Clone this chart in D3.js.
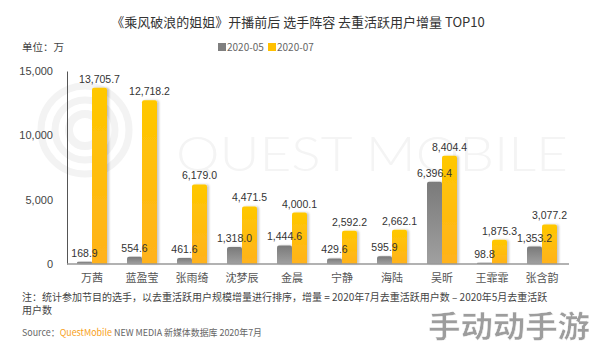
<!DOCTYPE html>
<html><head><meta charset="utf-8">
<script src="https://cdn.jsdelivr.net/npm/d3@7"></script>
<style>
body{margin:0;background:#fff;}
text{font-family:"Noto Sans CJK SC","Noto Sans",sans-serif;}
</style></head>
<body><svg id="c" width="594" height="345"></svg>
<script>
const categories = ["万茜","蓝盈莹","张雨绮","沈梦辰","金晨","宁静","海陆","吴昕","王霏霏","张含韵"];
const may = [168.9,554.6,461.6,1318.0,1444.6,429.6,595.9,6396.4,98.8,1353.2];
const jul = [13705.7,12718.2,6179.0,4471.5,4000.1,2592.2,2662.1,8404.4,1875.3,3077.2];
const seriesNames = ["2020-05","2020-07"];
const yTicks = [0,5000,10000,15000];

const svg = d3.select("#c");
const defs = svg.append("defs");
const g1 = defs.append("linearGradient").attr("id","gGray").attr("x1",0).attr("y1",0).attr("x2",0).attr("y2",1);
g1.append("stop").attr("offset","0%").attr("stop-color","#7a7a7a");
g1.append("stop").attr("offset","100%").attr("stop-color","#a0a0a0");
const g2 = defs.append("linearGradient").attr("id","gYel").attr("x1",0).attr("y1",0).attr("x2",0).attr("y2",1);
g2.append("stop").attr("offset","0%").attr("stop-color","#ffc800");
g2.append("stop").attr("offset","100%").attr("stop-color","#ffb21c");
const f = defs.append("filter").attr("id","sh").attr("x","-30%").attr("y","-10%").attr("width","160%").attr("height","120%");
f.append("feDropShadow").attr("dx",2).attr("dy",0).attr("stdDeviation",1.2).attr("flood-color","#000").attr("flood-opacity",0.22);

// watermark
const wm = svg.append("g");
[44,30,16].forEach((r,i)=>wm.append("circle").attr("cx",85).attr("cy",130).attr("r",r)
  .attr("fill","none").attr("stroke","#f3f3f3").attr("stroke-width",i==2?8:7));
wm.append("text").attr("x",176).attr("y",171).attr("font-size",48).attr("fill","#f4f4f4").attr("font-weight",300)
  .attr("textLength",392).attr("lengthAdjust","spacingAndGlyphs").style("font-family","Lato, sans-serif").text("QUEST MOBILE");

const pLeft=67, pRight=567, pTop=71, pBottom=264;
const x = d3.scaleBand().domain(categories).range([pLeft,pRight]).paddingInner(0.4).paddingOuter(0.2);
const y = d3.scaleLinear().domain([0,15000]).range([pBottom,pTop]);
const bw = x.bandwidth()/2;

// title
svg.append("text").attr("x",298).attr("y",27).attr("text-anchor","middle").attr("font-size",13).attr("fill","#333")
  .text("《乘风破浪的姐姐》开播前后  选手阵容 去重活跃用户增量 TOP10");
svg.append("text").attr("x",22).attr("y",51).attr("font-size",10.5).attr("fill","#444").text("单位：万");

// legend
const leg = [{n:seriesNames[0],c:"#7f7f7f",x:218},{n:seriesNames[1],c:"#ffc000",x:268}];
leg.forEach(d=>{
  svg.append("rect").attr("x",d.x).attr("y",43).attr("width",8).attr("height",8).attr("fill",d.c);
  svg.append("text").attr("x",d.x+9).attr("y",51).attr("font-size",10).attr("fill","#666").text(d.n);
});

// y axis
const ya = svg.append("g").attr("transform",`translate(${pLeft},0)`)
  .call(d3.axisLeft(y).tickValues(yTicks).tickSize(0).tickPadding(14).tickFormat(d3.format(",")));
ya.select(".domain").attr("stroke","#555");
ya.selectAll("text").attr("font-size",11).attr("fill","#444").style("font-family","Liberation Sans, Arial, sans-serif");

// bars
const bars = svg.append("g");
function drawSeries(vals, fill, off){
  bars.selectAll(null).data(vals).enter().append("path")
    .attr("d",(v,i)=>{
      const x0 = x(categories[i])+off, y0=y(v), w=bw, h=pBottom-y0, r=Math.min(2,h/2);
      return `M${x0},${pBottom}V${y0+r}Q${x0},${y0} ${x0+r},${y0}H${x0+w-r}Q${x0+w},${y0} ${x0+w},${y0+r}V${pBottom}Z`;
    })
    .attr("fill",fill).attr("filter","url(#sh)");
}
drawSeries(may,"url(#gGray)",0);
drawSeries(jul,"url(#gYel)",bw);

// x axis
const xa = svg.append("g").attr("transform",`translate(0,${pBottom})`)
  .call(d3.axisBottom(x).tickSize(0).tickPadding(10));
xa.select(".domain").attr("stroke","#999").attr("stroke-width",1.5).attr("d",`M${pLeft},0H${pRight+2}`);
xa.selectAll("text").attr("font-size",11).attr("fill","#555");

// value labels
const fmt = d3.format(",.1f");
function labels(vals, off){
  svg.selectAll(null).data(vals).enter().append("text")
    .attr("x",(v,i)=>x(categories[i])+off+bw/2)
    .attr("y",v=>y(v)-5)
    .attr("text-anchor","middle").attr("font-size",10.5).attr("fill","#333")
    .style("font-family","Liberation Sans, Arial, sans-serif")
    .text(v=>fmt(v));
}
labels(may,0);
labels(jul,bw);

// notes
svg.append("text").attr("x",22).attr("y",301).attr("font-size",10).attr("fill","#444")
  .text("注：统计参加节目的选手，以去重活跃用户规模增量进行排序，增量 = 2020年7月去重活跃用户数 – 2020年5月去重活跃");
svg.append("text").attr("x",22).attr("y",314).attr("font-size",10).attr("fill","#444").text("用户数");
const src = svg.append("text").attr("x",22).attr("y",336).attr("font-size",9.5).attr("fill","#666")
  .attr("textLength",240).attr("lengthAdjust","spacingAndGlyphs");
src.append("tspan").text("Source：");
src.append("tspan").attr("fill","#f7a11a").text("QuestMobile");
src.append("tspan").text(" NEW MEDIA 新媒体数据库 2020年7月");

// site watermark
svg.append("text").attr("x",428).attr("y",337).attr("font-size",30).attr("font-weight","bold")
  .attr("textLength",162).attr("lengthAdjust","spacingAndGlyphs")
  .attr("fill","#8c8c8c").attr("opacity",0.85).attr("stroke","#fff").attr("stroke-width",0.5).text("手动动手游");
</script></body></html>
